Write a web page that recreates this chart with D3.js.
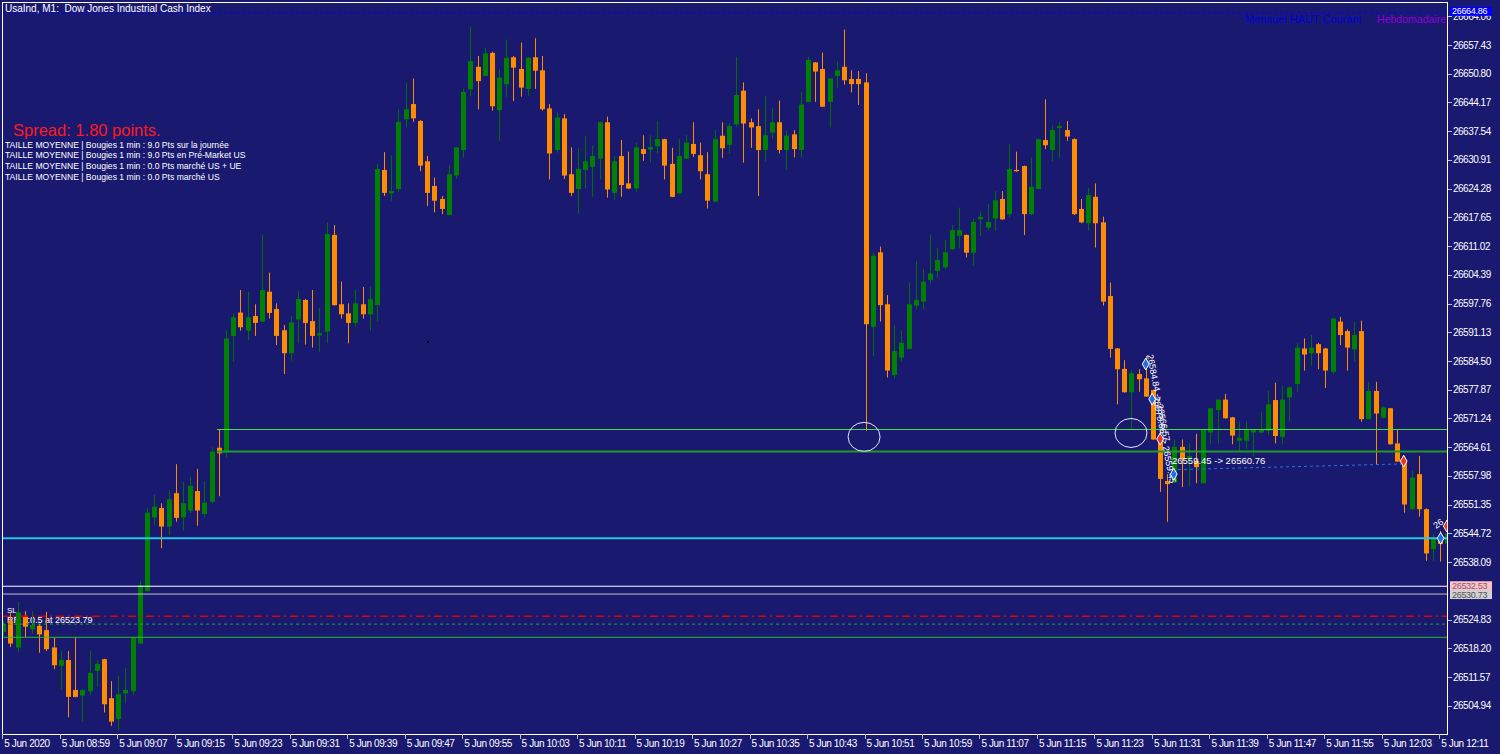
<!DOCTYPE html>
<html>
<head>
<meta charset="utf-8">
<script src="https://cdn.jsdelivr.net/npm/d3@7"></script>
<style>
  body { margin: 0; background: #191970; overflow: hidden; }
  text { font-family: "Liberation Sans", Arial, sans-serif; }
</style>
</head>
<body>
<div id="chart"></div>
<script>
// UsaInd M1, 5 Jun 2020 08:51 -> 12:12, one candle per minute
var opens = [26522.0,26524.6,26518.4,26525.5,26522.6,26523.4,26522.4,26518.4,26514.2,26515.5,
  26508.6,26507.3,26508.3,26513.0,26515.7,26506.7,26501.9,26507.8,26508.3,26519.3,
  26531.4,26548.4,26550.6,26546.3,26554.0,26548.4,26550.0,26554.5,26549.2,26552.0,
  26564.5,26563.4,26590.3,26595.7,26591.5,26594.9,26593.6,26600.5,26596.5,26591.6,
  26586.3,26594.1,26598.6,26593.7,26590.4,26591.3,26613.6,26597.6,26595.5,26593.3,
  26597.6,26595.3,26597.4,26628.6,26623.2,26624.2,26640.3,26643.8,26639.9,26630.6,
  26624.9,26621.9,26618.2,26627.3,26633.2,26647.2,26652.4,26650.3,26655.6,26642.4,
  26648.4,26654.6,26651.9,26647.3,26654.6,26651.6,26642.8,26633.2,26640.5,26627.6,
  26624.2,26628.6,26629.3,26631.2,26639.6,26623.3,26631.8,26625.5,26624.3,26633.4,
  26633.3,26634.1,26635.7,26630.0,26623.2,26631.2,26634.6,26632.0,26627.6,26621.3,
  26636.5,26634.4,26639.1,26646.9,26639.6,26638.7,26633.2,26637.2,26639.6,26633.2,
  26636.8,26633.2,26644.3,26653.4,26651.9,26644.3,26650.3,26652.4,26649.6,26649.6,
  26648.8,26592.4,26609.6,26597.6,26581.3,26585.3,26587.3,26597.3,26598.2,26603.2,
  26605.3,26606.1,26610.3,26613.4,26613.6,26609.5,26617.2,26615.3,26617.4,26621.9,
  26618.4,26628.6,26629.5,26618.4,26624.2,26635.5,26633.2,26638.3,26637.8,26635.7,
  26619.6,26616.3,26622.4,26616.5,26599.5,26587.4,26582.7,26577.3,26581.5,26580.5,
  26577.8,26566.3,26556.8,26556.5,26564.7,26561.8,26561.4,26556.3,26568.0,26573.2,
  26575.6,26571.5,26566.1,26566.1,26568.0,26568.0,26568.4,26575.5,26567.0,26576.1,
  26579.2,26587.4,26586.3,26588.4,26587.4,26582.0,26593.6,26591.4,26587.2,26591.4,
  26571.1,26577.6,26571.4,26573.6,26565.5,26561.3,26550.3,26558.4,26550.3,26541.1,
  26543.6,26542.4];
var highs = [26524.7,26526.3,26528.9,26526.8,26526.8,26523.8,26526.6,26520.8,26517.6,26517.6,
  26520.8,26508.7,26517.6,26515.5,26515.8,26510.6,26511.8,26513.7,26520.8,26533.8,
  26550.5,26553.6,26551.7,26554.7,26560.7,26556.6,26557.8,26559.6,26556.8,26564.6,
  26568.8,26591.6,26595.5,26600.9,26600.5,26597.6,26613.6,26604.9,26597.8,26592.8,
  26594.9,26600.6,26598.8,26600.9,26596.8,26616.5,26615.9,26602.8,26597.8,26600.9,
  26601.6,26601.6,26630.0,26632.7,26631.9,26642.6,26648.6,26649.7,26640.1,26631.8,
  26626.8,26622.6,26629.7,26633.9,26647.4,26661.6,26654.9,26656.8,26655.9,26651.8,
  26658.7,26654.9,26658.0,26654.6,26659.0,26654.9,26643.8,26641.9,26641.5,26633.8,
  26633.6,26636.5,26634.3,26639.8,26640.9,26631.8,26635.5,26632.8,26634.9,26636.6,
  26636.6,26639.9,26635.8,26633.7,26635.7,26636.6,26639.6,26634.9,26632.7,26637.8,
  26639.6,26639.3,26654.7,26648.8,26640.5,26642.6,26645.6,26642.8,26644.6,26637.6,
  26637.8,26646.6,26654.7,26653.5,26655.7,26649.8,26653.7,26661.0,26651.6,26651.4,
  26650.9,26609.6,26610.9,26599.7,26592.8,26591.6,26602.6,26607.6,26605.7,26613.6,
  26610.6,26612.4,26615.9,26619.9,26613.7,26617.4,26619.0,26620.7,26623.7,26623.7,
  26634.6,26632.8,26629.6,26631.5,26635.8,26644.9,26638.8,26639.6,26639.9,26635.9,
  26621.9,26624.5,26625.5,26617.8,26602.6,26587.5,26584.7,26582.4,26582.6,26585.7,
  26577.9,26568.6,26558.4,26566.4,26566.4,26565.5,26567.7,26568.7,26573.7,26575.7,
  26576.9,26571.6,26570.5,26570.6,26568.8,26572.8,26577.6,26579.5,26578.7,26578.7,
  26588.6,26589.7,26590.5,26588.7,26587.5,26594.4,26594.7,26591.8,26593.6,26593.8,
  26579.7,26579.7,26574.1,26573.7,26568.7,26562.6,26559.3,26562.6,26550.5,26544.7,
  26545.3,26546.0];
var lows = [26521.0,26518.5,26517.3,26520.8,26521.5,26517.2,26517.6,26513.4,26508.6,26502.3,
  26506.9,26501.3,26507.4,26509.3,26503.4,26500.3,26499.3,26505.5,26507.4,26519.2,
  26531.3,26546.5,26541.3,26544.3,26547.4,26545.3,26549.4,26546.5,26548.4,26551.7,
  26553.3,26562.3,26584.3,26591.5,26589.3,26590.3,26593.5,26594.3,26588.2,26581.5,
  26584.6,26588.6,26588.3,26587.6,26586.6,26588.6,26597.3,26594.3,26588.6,26592.4,
  26594.3,26591.4,26593.6,26622.6,26621.5,26623.6,26638.4,26639.7,26628.3,26620.3,
  26618.8,26618.4,26618.1,26626.5,26631.5,26645.6,26642.6,26650.2,26642.3,26635.3,
  26645.5,26644.5,26645.5,26645.7,26647.3,26642.3,26626.4,26632.6,26626.5,26622.6,
  26618.6,26624.3,26622.4,26626.4,26622.2,26621.6,26622.4,26624.2,26623.6,26630.7,
  26630.3,26632.4,26626.4,26622.3,26623.1,26631.1,26631.6,26626.4,26619.7,26621.2,
  26631.4,26632.4,26638.6,26630.3,26633.7,26622.6,26630.6,26635.7,26632.4,26628.7,
  26631.5,26631.5,26644.2,26644.3,26643.1,26638.4,26647.6,26648.3,26646.5,26643.6,
  26568.4,26585.6,26593.6,26580.7,26580.5,26584.3,26587.2,26596.4,26596.4,26602.4,
  26603.7,26605.7,26610.2,26610.5,26608.4,26606.5,26613.4,26614.6,26614.5,26617.1,
  26617.6,26628.2,26613.6,26618.2,26624.1,26633.4,26630.5,26631.4,26635.3,26618.2,
  26616.3,26614.6,26610.7,26597.3,26585.3,26574.5,26577.2,26568.8,26577.4,26576.2,
  26566.3,26554.3,26547.4,26556.4,26555.4,26555.5,26556.3,26556.2,26565.3,26565.5,
  26571.2,26565.3,26563.7,26564.2,26562.4,26567.9,26567.4,26565.5,26565.3,26570.6,
  26577.4,26582.3,26583.4,26582.6,26578.3,26581.5,26588.2,26582.3,26584.3,26570.5,
  26571.0,26560.5,26571.3,26565.2,26561.2,26549.5,26550.2,26548.6,26538.4,26538.4,
  26538.2,26538.6];
var closes = [26523.8,26519.3,26526.5,26523.2,26523.6,26521.4,26518.0,26514.3,26515.5,26507.0,
  26507.0,26508.6,26512.5,26514.6,26505.3,26501.3,26507.6,26508.6,26520.7,26532.8,
  26549.5,26550.9,26546.3,26552.6,26548.3,26551.7,26555.7,26550.0,26551.8,26563.6,
  26563.2,26589.7,26594.6,26592.3,26594.6,26593.3,26600.9,26595.6,26590.3,26586.3,
  26593.4,26598.8,26593.3,26590.3,26590.9,26613.8,26597.4,26595.3,26593.3,26597.8,
  26595.3,26598.8,26628.8,26623.3,26623.7,26639.7,26642.6,26640.5,26629.6,26623.3,
  26621.5,26619.6,26627.6,26633.8,26646.6,26653.7,26649.1,26655.5,26643.3,26649.9,
  26654.5,26652.2,26647.6,26654.5,26651.5,26642.6,26632.4,26640.7,26627.3,26623.3,
  26628.8,26630.6,26631.8,26639.6,26624.1,26630.6,26625.1,26624.3,26633.8,26632.3,
  26633.9,26635.7,26629.6,26622.4,26631.8,26634.9,26632.3,26628.3,26621.5,26635.7,
  26633.6,26638.7,26645.9,26639.3,26638.4,26633.2,26636.6,26639.6,26633.2,26636.5,
  26633.4,26643.7,26654.0,26651.3,26643.2,26649.7,26651.6,26649.3,26648.4,26648.4,
  26593.0,26608.8,26597.4,26582.3,26586.8,26588.7,26597.6,26598.6,26602.8,26604.7,
  26607.8,26609.6,26614.7,26614.7,26609.5,26616.6,26617.8,26616.6,26621.6,26617.2,
  26628.8,26628.3,26618.4,26624.7,26635.7,26634.3,26637.8,26638.7,26636.3,26618.4,
  26616.5,26622.8,26616.3,26598.2,26587.3,26582.6,26577.3,26581.7,26580.3,26576.3,
  26566.4,26557.3,26556.1,26564.7,26561.8,26562.6,26560.0,26568.6,26573.6,26575.6,
  26571.3,26567.3,26566.8,26568.7,26568.7,26568.6,26574.5,26567.2,26575.6,26578.4,
  26587.6,26586.0,26587.6,26586.3,26582.3,26594.3,26590.5,26587.6,26590.5,26571.1,
  26577.6,26572.4,26573.8,26565.3,26561.3,26551.4,26557.6,26550.3,26540.1,26543.6,
  26542.3,26544.7];

var priceTicks = [26504.94,26511.57,26518.20,26524.83,26538.09,26544.72,26551.35,
  26557.98,26564.61,26571.24,26577.87,26584.50,26591.13,26597.76,26604.39,26611.02,26617.65,
  26624.28,26630.91,26637.54,26644.17,26650.80,26657.43,26664.06];
var timeLabels = ["5 Jun 2020","5 Jun 08:59","5 Jun 09:07","5 Jun 09:15","5 Jun 09:23","5 Jun 09:31",
  "5 Jun 09:39","5 Jun 09:47","5 Jun 09:55","5 Jun 10:03","5 Jun 10:11","5 Jun 10:19","5 Jun 10:27",
  "5 Jun 10:35","5 Jun 10:43","5 Jun 10:51","5 Jun 10:59","5 Jun 11:07","5 Jun 11:15","5 Jun 11:23",
  "5 Jun 11:31","5 Jun 11:39","5 Jun 11:47","5 Jun 11:55","5 Jun 12:03","5 Jun 12:11"];
var timeLabelIdx = [0,8,16,24,32,40,48,56,64,72,80,88,96,104,112,120,128,136,144,152,160,168,176,184,192,200];

// levels drawn on the chart
var monthlyHigh = 26664.86;
var zoneTop = 26568.7, zoneBottom = 26563.6, zoneStartIdx = 30;
var bidLevel = 26543.6;
var pinkLevel = 26532.53, grayLevel = 26530.73;
var slLevel = 26525.6, rrLevel = 26523.79, lowLevel = 26520.75;
var circles = [{i: 119.8, p: 26567.0}, {i: 156.95, p: 26567.9}];
var trendFrom = {i: 163.5, p: 26559.45}, trendTo = {i: 194.8, p: 26560.76};
var buyMarks = [{i: 159.0, p: 26583.8}, {i: 159.9, p: 26575.7}, {i: 162.9, p: 26558.4}, {i: 200.05, p: 26543.6}];
var sellMarks = [{i: 161.0, p: 26566.5}, {i: 194.9, p: 26561.4}, {i: 200.9, p: 26546.4}];
var infoLines = [
  "TAILLE MOYENNE | Bougies 1 min : 9.0 Pts sur la journée",
  "TAILLE MOYENNE | Bougies 1 min : 9.0 Pts en Pré-Market US",
  "TAILLE MOYENNE | Bougies 1 min : 0.0 Pts marché US + UE",
  "TAILLE MOYENNE | Bougies 1 min : 0.0 Pts marché US"];

var W = 1500, H = 754;
var pLeft = 2, pTop = 2, pRight = 1448, pBottom = 734;

var svg = d3.select("#chart").append("svg")
    .attr("width", W).attr("height", H)
    .style("background", "#191970");

var x = d3.scaleLinear().domain([0, 200]).range([3.3, 1440.3]);
var y = d3.scaleLinear().domain([26504.94, 26657.43]).range([705.8, 45]);

svg.append("clipPath").attr("id", "plotclip")
  .append("rect").attr("x", pLeft).attr("y", pTop).attr("width", pRight - pLeft).attr("height", pBottom - pTop);

var g = svg.append("g").attr("clip-path", "url(#plotclip)");

// SL / RR text (behind candles)
g.append("text").attr("x", 7).attr("y", 613).attr("fill", "#ffffff").attr("font-size", 8).text("SL");
g.append("text").attr("x", 7).attr("y", 623).attr("fill", "#ffffff").attr("font-size", 9).text("RR 1:0.5 at 26523.79");

// candles
var candles = d3.range(opens.length).map(function(i) {
  return {i: i, o: opens[i], h: highs[i], l: lows[i], c: closes[i]};
});
var cg = g.selectAll("g.candle").data(candles).enter().append("g").attr("class", "candle");
cg.append("line")
  .attr("x1", function(d) { return Math.round(x(d.i)) + 0.5; })
  .attr("x2", function(d) { return Math.round(x(d.i)) + 0.5; })
  .attr("y1", function(d) { return y(d.h); })
  .attr("y2", function(d) { return y(d.l); })
  .attr("stroke", function(d) { return d.c >= d.o ? "#007000" : "#ff8c00"; })
  .attr("stroke-width", 1);
cg.append("rect")
  .attr("x", function(d) { return Math.round(x(d.i)) - 2; })
  .attr("width", 5)
  .attr("y", function(d) { return y(Math.max(d.o, d.c)); })
  .attr("height", function(d) { return Math.max(1, Math.abs(y(d.o) - y(d.c))); })
  .attr("fill", function(d) { return d.c >= d.o ? "#008000" : "#ff8c00"; });

// horizontal levels
function hline(p, x0, color, width, dash) {
  g.append("line").attr("x1", x0).attr("x2", pRight).attr("y1", y(p)).attr("y2", y(p))
    .attr("stroke", color).attr("stroke-width", width).attr("stroke-dasharray", dash || null);
}
hline(monthlyHigh, pLeft, "#0000ff", 1, "3,3");
hline(zoneTop, x(zoneStartIdx) - 2, "#44dd44", 1);
hline(zoneBottom, x(zoneStartIdx) - 2, "#229922", 2);
hline(bidLevel, pLeft, "#25c6e0", 2);
hline(pinkLevel, pLeft, "#ffffff", 1);
hline(grayLevel, pLeft, "#c0c0c0", 1);
hline(slLevel, pLeft, "#e00000", 1.5, "8,4,2,4");
hline(rrLevel, pLeft, "#2e9e2e", 1, "3,3");
hline(lowLevel, pLeft, "#2db82d", 1);

// circles marking the wick touches
g.selectAll("ellipse.touch").data(circles).enter().append("ellipse")
  .attr("cx", function(d) { return x(d.i); }).attr("cy", function(d) { return y(d.p); })
  .attr("rx", 16).attr("ry", 14.5)
  .attr("fill", "none").attr("stroke", "#e6e6ff").attr("stroke-width", 1);

// trade line and labels
g.append("line")
  .attr("x1", x(trendFrom.i)).attr("y1", y(trendFrom.p))
  .attr("x2", x(trendTo.i)).attr("y2", y(trendTo.p))
  .attr("stroke", "#1e78dc").attr("stroke-width", 1).attr("stroke-dasharray", "3,3");
g.append("text").attr("x", 1172).attr("y", 464).attr("fill", "#ffffff").attr("font-size", 9.5)
  .text(trendFrom.p.toFixed(2) + " -> " + trendTo.p.toFixed(2));
g.append("text").attr("transform", "translate(1147,355) rotate(79)")
  .attr("fill", "#ffffff").attr("font-size", 9).text("26584.84 -> 26566.57");
g.append("text").attr("transform", "translate(1153,397) rotate(79)")
  .attr("fill", "#ffffff").attr("font-size", 9).text("26575.66 -> 26559.45");
g.append("text").attr("transform", "translate(1436,529) rotate(-35)")
  .attr("fill", "#ffffff").attr("font-size", 9).text("26");

var diamond = d3.symbol().type(d3.symbolDiamond).size(40);
g.selectAll("path.buy").data(buyMarks).enter().append("path")
  .attr("d", diamond)
  .attr("transform", function(d) { return "translate(" + x(d.i) + "," + y(d.p) + ")"; })
  .attr("fill", "#1e6ee6").attr("stroke", "#ffffff").attr("stroke-width", 1);
g.selectAll("path.sell").data(sellMarks).enter().append("path")
  .attr("d", diamond)
  .attr("transform", function(d) { return "translate(" + x(d.i) + "," + y(d.p) + ")"; })
  .attr("fill", "#f03020").attr("stroke", "#ffffff").attr("stroke-width", 1);

// top right labels
g.append("text").attr("x", 1245).attr("y", 23).attr("fill", "#0000dd").attr("font-size", 11).text("Mensuel HAUT Courant");
g.append("text").attr("x", 1446).attr("y", 23).attr("text-anchor", "end").attr("fill", "#9400d3")
  .attr("font-size", 10.5).text("Hebdomadaire");
g.append("rect").attr("x", 427).attr("y", 341).attr("width", 2).attr("height", 2).attr("fill", "#000000");

// texts at top left
svg.append("text").attr("x", 5).attr("y", 12).attr("fill", "#ffffff").attr("font-size", 10)
  .style("white-space", "pre").text("UsaInd, M1:  Dow Jones Industrial Cash Index");
svg.append("text").attr("x", 13).attr("y", 136).attr("fill", "#ff1a1a").attr("font-size", 16.5)
  .text("Spread: 1.80 points.");
svg.selectAll("text.info").data(infoLines).enter().append("text")
  .attr("x", 5).attr("y", function(d, k) { return 147.5 + k * 10.7; })
  .attr("fill", "#ffffff").attr("font-size", 8.6).text(function(d) { return d; });

// frame
svg.append("rect").attr("x", pLeft + 0.5).attr("y", pTop + 0.5)
  .attr("width", pRight - pLeft - 1).attr("height", pBottom - pTop)
  .attr("fill", "none").attr("stroke", "#ffffff").attr("stroke-width", 1);

// price axis
var ax = svg.append("g");
ax.selectAll("line.pt").data(priceTicks).enter().append("line")
  .attr("x1", pRight).attr("x2", pRight + 4)
  .attr("y1", function(d) { return Math.round(y(d)) + 0.5; })
  .attr("y2", function(d) { return Math.round(y(d)) + 0.5; })
  .attr("stroke", "#c0c0c0");
ax.selectAll("text.pt").data(priceTicks).enter().append("text")
  .attr("x", pRight + 5).attr("y", function(d) { return y(d); })
  .attr("dy", "0.35em").attr("fill", "#ffffff").attr("font-size", 10).attr("letter-spacing", -0.5)
  .text(function(d) { return d.toFixed(2); });

function priceBox(p, bg, fg, yOff) {
  var yy = y(p) + yOff;
  ax.append("rect").attr("x", pRight + 2).attr("y", yy - 4.5).attr("width", 42).attr("height", 9).attr("fill", bg);
  ax.append("text").attr("x", pRight + 4).attr("y", yy).attr("dy", "0.35em").attr("fill", fg)
    .attr("font-size", 9).attr("letter-spacing", -0.3).text(p.toFixed(2));
}
priceBox(monthlyHigh, "#0000ff", "#ffffff", -1.5);
priceBox(grayLevel, "#d3d3d3", "#505050", 0.5);
priceBox(pinkLevel, "#ffc0cb", "#806070", -0.5);

// time axis
ax.selectAll("line.tt").data(timeLabelIdx).enter().append("line")
  .attr("x1", function(d) { return Math.round(x(d)) - 0.5; })
  .attr("x2", function(d) { return Math.round(x(d)) - 0.5; })
  .attr("y1", pBottom).attr("y2", pBottom + 5).attr("stroke", "#c0c0c0");
ax.selectAll("text.tt").data(timeLabels).enter().append("text")
  .attr("x", function(d, k) { return x(timeLabelIdx[k]) + 1; })
  .attr("y", 747).attr("fill", "#ffffff").attr("font-size", 10).attr("letter-spacing", -0.4)
  .text(function(d) { return d; });
</script>
</body>
</html>
